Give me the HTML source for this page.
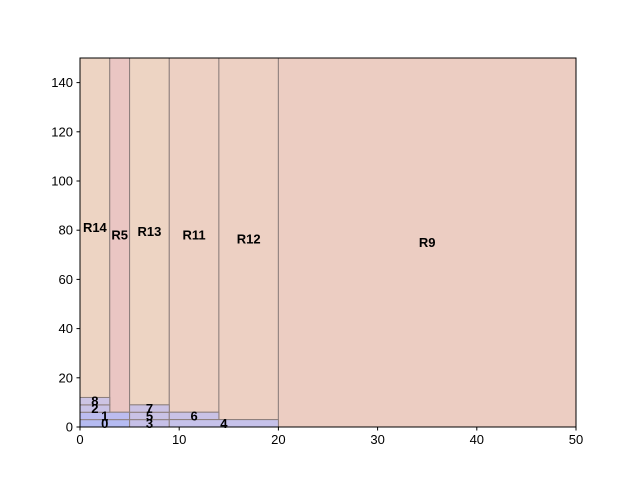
<!DOCTYPE html>
<html><head><meta charset="utf-8"><style>
body{margin:0;background:#fff;}
svg{display:block;font-family:"Liberation Sans","DejaVu Sans",sans-serif;}
</style></head><body>
<svg id="chart" width="640" height="480"></svg>
<script>
const labels=["R14","R5","R13","R11","R12","R9","0","1","2","8","3","5","7","6","4"];
const x0s=[0,3,5,9,14,20,0,0,0,0,5,5,5,9,9];
const x1s=[3,5,9,14,20,50,5,5,3,3,9,9,9,14,20];
const y0s=[12,6,9,6,3,0,0,3,6,9,0,3,6,3,0];
const y1s=[150,150,150,150,150,150,3,6,9,12,3,6,9,6,3];
const fills=["#edd4c3","#eac6c3","#edd4c3","#edd0c3","#edd0c3","#eccdc2","#b5bbf2","#bcbcf0","#c9c2e6","#cdc4e4","#c6c0e8","#c9c2e6","#cbc2e4","#c9c2e6","#c6c2ea"];
const xTicks=[0,10,20,30,40,50];
const yTicks=[0,20,40,60,80,100,120,140];
const L=80,R=576,T=58,B=427;
const sx=v=>L+(v-0)/(50-0)*(R-L);
const sy=v=>B-(v-0)/(150-0)*(B-T);
const svg=document.getElementById('chart');
const NS="http://www.w3.org/2000/svg";
function mk(t,a){const e=document.createElementNS(NS,t);for(const k in a)e.setAttribute(k,a[k]);svg.appendChild(e);return e;}
for(let i=0;i<labels.length;i++){
  const r=mk('rect',{x:sx(x0s[i]),y:sy(y1s[i]),width:sx(x1s[i])-sx(x0s[i]),height:sy(y0s[i])-sy(y1s[i]),fill:fills[i],stroke:"#8c7e7c","stroke-width":1});
  
  
}
for(let i=0;i<labels.length;i++){
  const t=mk('text',{x:sx((x0s[i]+x1s[i])/2),y:sy((y0s[i]+y1s[i])/2)+4.5,"text-anchor":"middle","font-size":13,"font-weight":"bold",fill:"#000"});
  t.textContent=labels[i];
  
  
}
const frame=mk('rect',{x:L,y:T,width:R-L,height:B-T,fill:"none",stroke:"#000","stroke-width":1});


xTicks.forEach(v=>{
  const l=mk('line',{x1:sx(v),x2:sx(v),y1:B,y2:B+3.5,stroke:"#000"});
  
  
  const t=mk('text',{x:sx(v),y:B+17,"text-anchor":"middle","font-size":13});
  t.textContent=v;
  
  
});
yTicks.forEach(v=>{
  const l=mk('line',{x1:L-3.5,x2:L,y1:sy(v),y2:sy(v),stroke:"#000"});
  
  
  const t=mk('text',{x:L-7,y:sy(v)+4.5,"text-anchor":"end","font-size":13});
  t.textContent=v;
  
  
});
</script>
</body></html>
